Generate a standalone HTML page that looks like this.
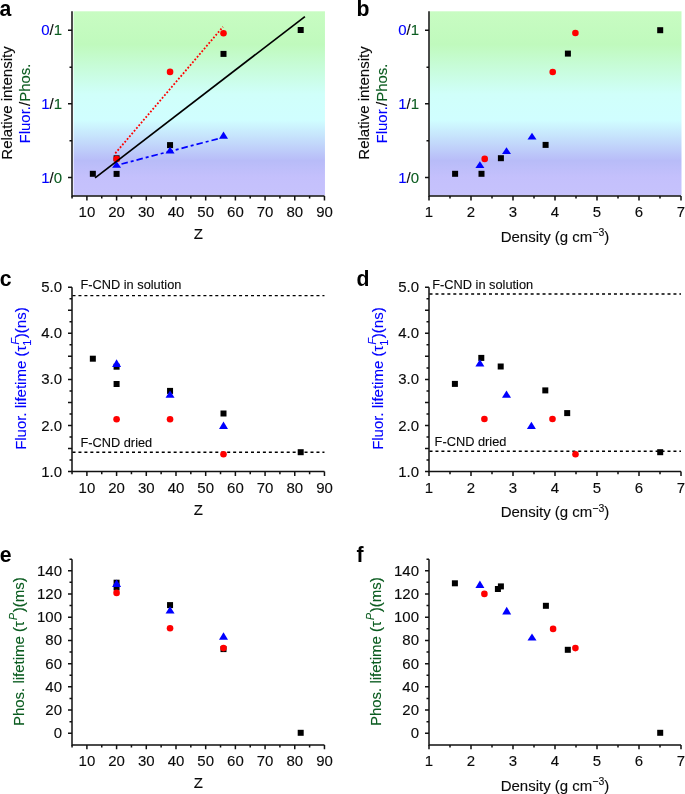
<!DOCTYPE html>
<html><head><meta charset="utf-8"><style>
html,body{margin:0;padding:0;background:#fff;width:685px;height:794px;overflow:hidden}
svg{display:block}
.t{font-family:"Liberation Sans",sans-serif;font-size:15px;fill:#0a0a0a}
text{stroke:#0a0a0a;stroke-width:0.12px}
.tt{font-family:"Liberation Sans",sans-serif;font-size:15px;fill:#0a0a0a}
.n{font-family:"Liberation Sans",sans-serif;font-size:12.8px;fill:#0a0a0a}
.L{font-family:"Liberation Sans",sans-serif;font-size:21.2px;font-weight:bold;fill:#000;stroke-width:0}
</style></head><body>
<div style="will-change:transform;width:685px;height:794px">
<svg width="685" height="794" viewBox="0 0 685 794">
<defs><linearGradient id="g" x1="0" y1="0" x2="0" y2="1"><stop offset="0" stop-color="#c8fcc2"/><stop offset="0.18" stop-color="#c0fabd"/><stop offset="0.45" stop-color="#d0fffa"/><stop offset="0.59" stop-color="#d0feff"/><stop offset="0.81" stop-color="#b8bcf8"/><stop offset="0.90" stop-color="#c4c0fc"/><stop offset="1" stop-color="#c6c2fc"/></linearGradient></defs>
<rect x="73.60" y="11.3" width="251.36" height="184.20" fill="url(#g)"/>
<path d="M72.0 11.2 L72.0 196 L324.46000000000004 196" fill="none" stroke="#111" stroke-width="1.5" stroke-linejoin="miter"/>
<path d="M72.0 30.30 L68.0 30.30 M72.0 103.80 L68.0 103.80 M72.0 177.60 L68.0 177.60 M72.0 67.20 L69.5 67.20 M72.0 140.80 L69.5 140.80" stroke="#111" stroke-width="1.5" fill="none"/>
<path d="M72.05 196 L72.05 198.6 M86.90 196 L86.90 200.4 M101.75 196 L101.75 198.6 M116.59 196 L116.59 200.4 M131.44 196 L131.44 198.6 M146.29 196 L146.29 200.4 M161.14 196 L161.14 198.6 M175.99 196 L175.99 200.4 M190.83 196 L190.83 198.6 M205.68 196 L205.68 200.4 M220.53 196 L220.53 198.6 M235.38 196 L235.38 200.4 M250.22 196 L250.22 198.6 M265.07 196 L265.07 200.4 M279.92 196 L279.92 198.6 M294.76 196 L294.76 200.4 M309.61 196 L309.61 198.6 M324.46 196 L324.46 200.4" stroke="#111" stroke-width="1.5" fill="none"/>
<text transform="translate(86.90,217.20) scale(1,1.01)" text-anchor="middle" class="t">10</text>
<text transform="translate(116.59,217.20) scale(1,1.01)" text-anchor="middle" class="t">20</text>
<text transform="translate(146.29,217.20) scale(1,1.01)" text-anchor="middle" class="t">30</text>
<text transform="translate(175.99,217.20) scale(1,1.01)" text-anchor="middle" class="t">40</text>
<text transform="translate(205.68,217.20) scale(1,1.01)" text-anchor="middle" class="t">50</text>
<text transform="translate(235.38,217.20) scale(1,1.01)" text-anchor="middle" class="t">60</text>
<text transform="translate(265.07,217.20) scale(1,1.01)" text-anchor="middle" class="t">70</text>
<text transform="translate(294.76,217.20) scale(1,1.01)" text-anchor="middle" class="t">80</text>
<text transform="translate(324.46,217.20) scale(1,1.01)" text-anchor="middle" class="t">90</text>
<text transform="translate(62.00,35.30) scale(1,1.01)" text-anchor="end" class="t"><tspan style="fill:#0000ff;stroke:#0000ff">0</tspan>/<tspan style="fill:#0b5c20;stroke:#0b5c20">1</tspan></text>
<text transform="translate(62.00,108.80) scale(1,1.01)" text-anchor="end" class="t"><tspan style="fill:#0000ff;stroke:#0000ff">1</tspan>/<tspan style="fill:#0b5c20;stroke:#0b5c20">1</tspan></text>
<text transform="translate(62.00,182.60) scale(1,1.01)" text-anchor="end" class="t"><tspan style="fill:#0000ff;stroke:#0000ff">1</tspan>/<tspan style="fill:#0b5c20;stroke:#0b5c20">0</tspan></text>
<text transform="translate(12.30,103.00) rotate(-90) scale(1,1.01)" text-anchor="middle" class="tt">Relative intensity</text>
<text transform="translate(29.80,103.50) rotate(-90) scale(1,1.01)" text-anchor="middle" class="tt"><tspan style="fill:#0000ff;stroke:#0000ff">Fluor.</tspan>/<tspan style="fill:#0b5c20;stroke:#0b5c20">Phos.</tspan></text>
<rect x="429.60" y="11.3" width="251.90" height="184.20" fill="url(#g)"/>
<path d="M429.0 11.2 L429.0 196 L681.0 196" fill="none" stroke="#111" stroke-width="1.5" stroke-linejoin="miter"/>
<path d="M429.0 30.30 L425.0 30.30 M429.0 103.80 L425.0 103.80 M429.0 177.60 L425.0 177.60 M429.0 67.20 L426.5 67.20 M429.0 140.80 L426.5 140.80" stroke="#111" stroke-width="1.5" fill="none"/>
<path d="M429.00 196 L429.00 200.4 M450.00 196 L450.00 198.6 M471.00 196 L471.00 200.4 M492.00 196 L492.00 198.6 M513.00 196 L513.00 200.4 M534.00 196 L534.00 198.6 M555.00 196 L555.00 200.4 M576.00 196 L576.00 198.6 M597.00 196 L597.00 200.4 M618.00 196 L618.00 198.6 M639.00 196 L639.00 200.4 M660.00 196 L660.00 198.6 M681.00 196 L681.00 200.4" stroke="#111" stroke-width="1.5" fill="none"/>
<text transform="translate(429.00,217.20) scale(1,1.01)" text-anchor="middle" class="t">1</text>
<text transform="translate(471.00,217.20) scale(1,1.01)" text-anchor="middle" class="t">2</text>
<text transform="translate(513.00,217.20) scale(1,1.01)" text-anchor="middle" class="t">3</text>
<text transform="translate(555.00,217.20) scale(1,1.01)" text-anchor="middle" class="t">4</text>
<text transform="translate(597.00,217.20) scale(1,1.01)" text-anchor="middle" class="t">5</text>
<text transform="translate(639.00,217.20) scale(1,1.01)" text-anchor="middle" class="t">6</text>
<text transform="translate(681.00,217.20) scale(1,1.01)" text-anchor="middle" class="t">7</text>
<text transform="translate(419.00,35.30) scale(1,1.01)" text-anchor="end" class="t"><tspan style="fill:#0000ff;stroke:#0000ff">0</tspan>/<tspan style="fill:#0b5c20;stroke:#0b5c20">1</tspan></text>
<text transform="translate(419.00,108.80) scale(1,1.01)" text-anchor="end" class="t"><tspan style="fill:#0000ff;stroke:#0000ff">1</tspan>/<tspan style="fill:#0b5c20;stroke:#0b5c20">1</tspan></text>
<text transform="translate(419.00,182.60) scale(1,1.01)" text-anchor="end" class="t"><tspan style="fill:#0000ff;stroke:#0000ff">1</tspan>/<tspan style="fill:#0b5c20;stroke:#0b5c20">0</tspan></text>
<text transform="translate(369.30,103.00) rotate(-90) scale(1,1.01)" text-anchor="middle" class="tt">Relative intensity</text>
<text transform="translate(386.80,103.50) rotate(-90) scale(1,1.01)" text-anchor="middle" class="tt"><tspan style="fill:#0000ff;stroke:#0000ff">Fluor.</tspan>/<tspan style="fill:#0b5c20;stroke:#0b5c20">Phos.</tspan></text>
<rect x="113.59" y="155.30" width="6.0" height="6.0" fill="#000"/>
<rect x="89.84" y="170.80" width="6.0" height="6.0" fill="#000"/>
<rect x="113.59" y="170.90" width="6.0" height="6.0" fill="#000"/>
<rect x="167.05" y="142.10" width="6.0" height="6.0" fill="#000"/>
<rect x="220.50" y="50.90" width="6.0" height="6.0" fill="#000"/>
<rect x="297.70" y="27.00" width="6.0" height="6.0" fill="#000"/>
<circle cx="116.59" cy="159.00" r="3.3" fill="#ff0000"/>
<circle cx="170.05" cy="71.90" r="3.3" fill="#ff0000"/>
<circle cx="223.50" cy="33.30" r="3.3" fill="#ff0000"/>
<polygon points="116.59,161.30 121.09,167.70 112.09,167.70" fill="#0000ff"/>
<polygon points="170.05,146.80 174.55,153.50 165.55,153.50" fill="#0000ff"/>
<polygon points="223.50,131.60 228.00,138.70 219.00,138.70" fill="#0000ff"/>
<line x1="115.3" y1="153.3" x2="223.0" y2="26.8" stroke="#ff0000" stroke-width="1.8" stroke-dasharray="1.8 1.8"/>
<line x1="121.5" y1="164.0" x2="221.0" y2="138.0" stroke="#0000ff" stroke-width="1.7" stroke-dasharray="6.5 3 3 3"/>
<line x1="95.1" y1="177.8" x2="304.9" y2="16.6" stroke="#000" stroke-width="1.7"/>
<rect x="452.10" y="170.80" width="6.0" height="6.0" fill="#000"/>
<rect x="478.50" y="170.80" width="6.0" height="6.0" fill="#000"/>
<rect x="497.90" y="155.20" width="6.0" height="6.0" fill="#000"/>
<rect x="542.60" y="141.90" width="6.0" height="6.0" fill="#000"/>
<rect x="564.90" y="50.60" width="6.0" height="6.0" fill="#000"/>
<rect x="657.20" y="27.20" width="6.0" height="6.0" fill="#000"/>
<circle cx="484.70" cy="158.90" r="3.3" fill="#ff0000"/>
<circle cx="552.70" cy="72.00" r="3.3" fill="#ff0000"/>
<circle cx="575.40" cy="33.00" r="3.3" fill="#ff0000"/>
<polygon points="479.90,161.30 484.40,168.10 475.40,168.10" fill="#0000ff"/>
<polygon points="506.50,147.20 511.00,154.00 502.00,154.00" fill="#0000ff"/>
<polygon points="532.00,132.70 536.50,139.50 527.50,139.50" fill="#0000ff"/>
<path d="M72.0 287.20000000000005 L72.0 471.6 L324.46000000000004 471.6" fill="none" stroke="#111" stroke-width="1.5" stroke-linejoin="miter"/>
<path d="M72.0 471.60 L68.0 471.60 M72.0 448.55 L68.0 448.55 M72.0 425.50 L68.0 425.50 M72.0 402.45 L68.0 402.45 M72.0 379.40 L68.0 379.40 M72.0 356.35 L68.0 356.35 M72.0 333.30 L68.0 333.30 M72.0 310.25 L68.0 310.25 M72.0 287.20 L68.0 287.20 M72.0 460.08 L69.5 460.08 M72.0 437.03 L69.5 437.03 M72.0 413.98 L69.5 413.98 M72.0 390.93 L69.5 390.93 M72.0 367.88 L69.5 367.88 M72.0 344.83 L69.5 344.83 M72.0 321.77 L69.5 321.77 M72.0 298.73 L69.5 298.73" stroke="#111" stroke-width="1.5" fill="none"/>
<path d="M72.05 471.6 L72.05 474.20000000000005 M86.90 471.6 L86.90 476.0 M101.75 471.6 L101.75 474.20000000000005 M116.59 471.6 L116.59 476.0 M131.44 471.6 L131.44 474.20000000000005 M146.29 471.6 L146.29 476.0 M161.14 471.6 L161.14 474.20000000000005 M175.99 471.6 L175.99 476.0 M190.83 471.6 L190.83 474.20000000000005 M205.68 471.6 L205.68 476.0 M220.53 471.6 L220.53 474.20000000000005 M235.38 471.6 L235.38 476.0 M250.22 471.6 L250.22 474.20000000000005 M265.07 471.6 L265.07 476.0 M279.92 471.6 L279.92 474.20000000000005 M294.76 471.6 L294.76 476.0 M309.61 471.6 L309.61 474.20000000000005 M324.46 471.6 L324.46 476.0" stroke="#111" stroke-width="1.5" fill="none"/>
<text transform="translate(86.90,492.80) scale(1,1.01)" text-anchor="middle" class="t">10</text>
<text transform="translate(116.59,492.80) scale(1,1.01)" text-anchor="middle" class="t">20</text>
<text transform="translate(146.29,492.80) scale(1,1.01)" text-anchor="middle" class="t">30</text>
<text transform="translate(175.99,492.80) scale(1,1.01)" text-anchor="middle" class="t">40</text>
<text transform="translate(205.68,492.80) scale(1,1.01)" text-anchor="middle" class="t">50</text>
<text transform="translate(235.38,492.80) scale(1,1.01)" text-anchor="middle" class="t">60</text>
<text transform="translate(265.07,492.80) scale(1,1.01)" text-anchor="middle" class="t">70</text>
<text transform="translate(294.76,492.80) scale(1,1.01)" text-anchor="middle" class="t">80</text>
<text transform="translate(324.46,492.80) scale(1,1.01)" text-anchor="middle" class="t">90</text>
<text transform="translate(62.00,476.60) scale(1,1.01)" text-anchor="end" class="t">1.0</text>
<text transform="translate(62.00,430.50) scale(1,1.01)" text-anchor="end" class="t">2.0</text>
<text transform="translate(62.00,384.40) scale(1,1.01)" text-anchor="end" class="t">3.0</text>
<text transform="translate(62.00,338.30) scale(1,1.01)" text-anchor="end" class="t">4.0</text>
<text transform="translate(62.00,292.20) scale(1,1.01)" text-anchor="end" class="t">5.0</text>
<text transform="translate(26.00,378.60) rotate(-90) scale(1,1.01)" text-anchor="middle" class="tt" style="fill:#0000ff;stroke:#0000ff">Fluor. lifetime (τ<tspan font-size="11" dy="4.9">1</tspan><tspan font-size="10.5" font-style="italic" dx="-5" dy="-11.7">F</tspan><tspan dy="6.8">)(ns)</tspan></text>
<line x1="72.5" y1="295.6" x2="324.46000000000004" y2="295.6" stroke="#000" stroke-width="1.4" stroke-dasharray="3 2.95"/>
<line x1="72.5" y1="452.2" x2="324.46000000000004" y2="452.2" stroke="#000" stroke-width="1.4" stroke-dasharray="3 2.95"/>
<text transform="translate(80.40,289.00) scale(1,1.01)" text-anchor="start" class="n">F-CND in solution</text>
<text transform="translate(80.40,446.60) scale(1,1.01)" text-anchor="start" class="n">F-CND dried</text>
<path d="M429.0 287.20000000000005 L429.0 471.6 L681.0 471.6" fill="none" stroke="#111" stroke-width="1.5" stroke-linejoin="miter"/>
<path d="M429.0 471.60 L425.0 471.60 M429.0 448.55 L425.0 448.55 M429.0 425.50 L425.0 425.50 M429.0 402.45 L425.0 402.45 M429.0 379.40 L425.0 379.40 M429.0 356.35 L425.0 356.35 M429.0 333.30 L425.0 333.30 M429.0 310.25 L425.0 310.25 M429.0 287.20 L425.0 287.20 M429.0 460.08 L426.5 460.08 M429.0 437.03 L426.5 437.03 M429.0 413.98 L426.5 413.98 M429.0 390.93 L426.5 390.93 M429.0 367.88 L426.5 367.88 M429.0 344.83 L426.5 344.83 M429.0 321.77 L426.5 321.77 M429.0 298.73 L426.5 298.73" stroke="#111" stroke-width="1.5" fill="none"/>
<path d="M429.00 471.6 L429.00 476.0 M450.00 471.6 L450.00 474.20000000000005 M471.00 471.6 L471.00 476.0 M492.00 471.6 L492.00 474.20000000000005 M513.00 471.6 L513.00 476.0 M534.00 471.6 L534.00 474.20000000000005 M555.00 471.6 L555.00 476.0 M576.00 471.6 L576.00 474.20000000000005 M597.00 471.6 L597.00 476.0 M618.00 471.6 L618.00 474.20000000000005 M639.00 471.6 L639.00 476.0 M660.00 471.6 L660.00 474.20000000000005 M681.00 471.6 L681.00 476.0" stroke="#111" stroke-width="1.5" fill="none"/>
<text transform="translate(429.00,492.80) scale(1,1.01)" text-anchor="middle" class="t">1</text>
<text transform="translate(471.00,492.80) scale(1,1.01)" text-anchor="middle" class="t">2</text>
<text transform="translate(513.00,492.80) scale(1,1.01)" text-anchor="middle" class="t">3</text>
<text transform="translate(555.00,492.80) scale(1,1.01)" text-anchor="middle" class="t">4</text>
<text transform="translate(597.00,492.80) scale(1,1.01)" text-anchor="middle" class="t">5</text>
<text transform="translate(639.00,492.80) scale(1,1.01)" text-anchor="middle" class="t">6</text>
<text transform="translate(681.00,492.80) scale(1,1.01)" text-anchor="middle" class="t">7</text>
<text transform="translate(419.00,476.60) scale(1,1.01)" text-anchor="end" class="t">1.0</text>
<text transform="translate(419.00,430.50) scale(1,1.01)" text-anchor="end" class="t">2.0</text>
<text transform="translate(419.00,384.40) scale(1,1.01)" text-anchor="end" class="t">3.0</text>
<text transform="translate(419.00,338.30) scale(1,1.01)" text-anchor="end" class="t">4.0</text>
<text transform="translate(419.00,292.20) scale(1,1.01)" text-anchor="end" class="t">5.0</text>
<text transform="translate(383.00,378.60) rotate(-90) scale(1,1.01)" text-anchor="middle" class="tt" style="fill:#0000ff;stroke:#0000ff">Fluor. lifetime (τ<tspan font-size="11" dy="4.9">1</tspan><tspan font-size="10.5" font-style="italic" dx="-5" dy="-11.7">F</tspan><tspan dy="6.8">)(ns)</tspan></text>
<line x1="429.5" y1="294.0" x2="681.0" y2="294.0" stroke="#000" stroke-width="1.4" stroke-dasharray="3 2.95"/>
<line x1="429.5" y1="451.3" x2="681.0" y2="451.3" stroke="#000" stroke-width="1.4" stroke-dasharray="3 2.95"/>
<text transform="translate(432.20,288.80) scale(1,1.01)" text-anchor="start" class="n">F-CND in solution</text>
<text transform="translate(434.60,446.40) scale(1,1.01)" text-anchor="start" class="n">F-CND dried</text>
<rect x="89.84" y="355.70" width="6.0" height="6.0" fill="#000"/>
<rect x="113.59" y="363.70" width="6.0" height="6.0" fill="#000"/>
<rect x="113.59" y="381.00" width="6.0" height="6.0" fill="#000"/>
<rect x="167.05" y="387.90" width="6.0" height="6.0" fill="#000"/>
<rect x="220.50" y="410.50" width="6.0" height="6.0" fill="#000"/>
<rect x="297.70" y="449.20" width="6.0" height="6.0" fill="#000"/>
<circle cx="116.59" cy="419.20" r="3.3" fill="#ff0000"/>
<circle cx="170.05" cy="419.30" r="3.3" fill="#ff0000"/>
<circle cx="223.50" cy="454.20" r="3.3" fill="#ff0000"/>
<polygon points="116.59,359.30 121.09,366.90 112.09,366.90" fill="#0000ff"/>
<polygon points="170.05,390.50 174.55,397.70 165.55,397.70" fill="#0000ff"/>
<polygon points="223.50,421.40 228.00,428.90 219.00,428.90" fill="#0000ff"/>
<rect x="478.30" y="354.90" width="6.0" height="6.0" fill="#000"/>
<rect x="497.70" y="363.50" width="6.0" height="6.0" fill="#000"/>
<rect x="451.90" y="380.90" width="6.0" height="6.0" fill="#000"/>
<rect x="542.30" y="387.40" width="6.0" height="6.0" fill="#000"/>
<rect x="564.20" y="410.10" width="6.0" height="6.0" fill="#000"/>
<rect x="657.20" y="449.20" width="6.0" height="6.0" fill="#000"/>
<circle cx="484.40" cy="419.00" r="3.3" fill="#ff0000"/>
<circle cx="552.50" cy="419.00" r="3.3" fill="#ff0000"/>
<circle cx="575.50" cy="454.20" r="3.3" fill="#ff0000"/>
<polygon points="479.90,359.30 484.40,366.50 475.40,366.50" fill="#0000ff"/>
<polygon points="506.50,390.40 511.00,397.80 502.00,397.80" fill="#0000ff"/>
<polygon points="531.40,421.70 535.90,429.00 526.90,429.00" fill="#0000ff"/>
<path d="M72.0 559.15 L72.0 744.91 L324.46000000000004 744.91" fill="none" stroke="#111" stroke-width="1.5" stroke-linejoin="miter"/>
<path d="M72.0 733.30 L68.0 733.30 M72.0 710.08 L68.0 710.08 M72.0 686.86 L68.0 686.86 M72.0 663.64 L68.0 663.64 M72.0 640.42 L68.0 640.42 M72.0 617.20 L68.0 617.20 M72.0 593.98 L68.0 593.98 M72.0 570.76 L68.0 570.76 M72.0 721.69 L69.5 721.69 M72.0 698.47 L69.5 698.47 M72.0 675.25 L69.5 675.25 M72.0 652.03 L69.5 652.03 M72.0 628.81 L69.5 628.81 M72.0 605.59 L69.5 605.59 M72.0 582.37 L69.5 582.37 M72.0 559.15 L69.5 559.15" stroke="#111" stroke-width="1.5" fill="none"/>
<path d="M72.05 744.91 L72.05 747.51 M86.90 744.91 L86.90 749.31 M101.75 744.91 L101.75 747.51 M116.59 744.91 L116.59 749.31 M131.44 744.91 L131.44 747.51 M146.29 744.91 L146.29 749.31 M161.14 744.91 L161.14 747.51 M175.99 744.91 L175.99 749.31 M190.83 744.91 L190.83 747.51 M205.68 744.91 L205.68 749.31 M220.53 744.91 L220.53 747.51 M235.38 744.91 L235.38 749.31 M250.22 744.91 L250.22 747.51 M265.07 744.91 L265.07 749.31 M279.92 744.91 L279.92 747.51 M294.76 744.91 L294.76 749.31 M309.61 744.91 L309.61 747.51 M324.46 744.91 L324.46 749.31" stroke="#111" stroke-width="1.5" fill="none"/>
<text transform="translate(86.90,766.11) scale(1,1.01)" text-anchor="middle" class="t">10</text>
<text transform="translate(116.59,766.11) scale(1,1.01)" text-anchor="middle" class="t">20</text>
<text transform="translate(146.29,766.11) scale(1,1.01)" text-anchor="middle" class="t">30</text>
<text transform="translate(175.99,766.11) scale(1,1.01)" text-anchor="middle" class="t">40</text>
<text transform="translate(205.68,766.11) scale(1,1.01)" text-anchor="middle" class="t">50</text>
<text transform="translate(235.38,766.11) scale(1,1.01)" text-anchor="middle" class="t">60</text>
<text transform="translate(265.07,766.11) scale(1,1.01)" text-anchor="middle" class="t">70</text>
<text transform="translate(294.76,766.11) scale(1,1.01)" text-anchor="middle" class="t">80</text>
<text transform="translate(324.46,766.11) scale(1,1.01)" text-anchor="middle" class="t">90</text>
<text transform="translate(62.00,738.30) scale(1,1.01)" text-anchor="end" class="t">0</text>
<text transform="translate(62.00,715.08) scale(1,1.01)" text-anchor="end" class="t">20</text>
<text transform="translate(62.00,691.86) scale(1,1.01)" text-anchor="end" class="t">40</text>
<text transform="translate(62.00,668.64) scale(1,1.01)" text-anchor="end" class="t">60</text>
<text transform="translate(62.00,645.42) scale(1,1.01)" text-anchor="end" class="t">80</text>
<text transform="translate(62.00,622.20) scale(1,1.01)" text-anchor="end" class="t">100</text>
<text transform="translate(62.00,598.98) scale(1,1.01)" text-anchor="end" class="t">120</text>
<text transform="translate(62.00,575.76) scale(1,1.01)" text-anchor="end" class="t">140</text>
<text transform="translate(24.00,651.70) rotate(-90) scale(1,1.01)" text-anchor="middle" class="tt" style="fill:#0b5c20;stroke:#0b5c20">Phos. lifetime (τ<tspan font-size="10.5" font-style="italic" dx="1.2" dy="-6.6">P</tspan><tspan dx="0.6" dy="6.6">)(ms)</tspan></text>
<path d="M429.0 559.15 L429.0 744.91 L681.0 744.91" fill="none" stroke="#111" stroke-width="1.5" stroke-linejoin="miter"/>
<path d="M429.0 733.30 L425.0 733.30 M429.0 710.08 L425.0 710.08 M429.0 686.86 L425.0 686.86 M429.0 663.64 L425.0 663.64 M429.0 640.42 L425.0 640.42 M429.0 617.20 L425.0 617.20 M429.0 593.98 L425.0 593.98 M429.0 570.76 L425.0 570.76 M429.0 721.69 L426.5 721.69 M429.0 698.47 L426.5 698.47 M429.0 675.25 L426.5 675.25 M429.0 652.03 L426.5 652.03 M429.0 628.81 L426.5 628.81 M429.0 605.59 L426.5 605.59 M429.0 582.37 L426.5 582.37 M429.0 559.15 L426.5 559.15" stroke="#111" stroke-width="1.5" fill="none"/>
<path d="M429.00 744.91 L429.00 749.31 M450.00 744.91 L450.00 747.51 M471.00 744.91 L471.00 749.31 M492.00 744.91 L492.00 747.51 M513.00 744.91 L513.00 749.31 M534.00 744.91 L534.00 747.51 M555.00 744.91 L555.00 749.31 M576.00 744.91 L576.00 747.51 M597.00 744.91 L597.00 749.31 M618.00 744.91 L618.00 747.51 M639.00 744.91 L639.00 749.31 M660.00 744.91 L660.00 747.51 M681.00 744.91 L681.00 749.31" stroke="#111" stroke-width="1.5" fill="none"/>
<text transform="translate(429.00,766.11) scale(1,1.01)" text-anchor="middle" class="t">1</text>
<text transform="translate(471.00,766.11) scale(1,1.01)" text-anchor="middle" class="t">2</text>
<text transform="translate(513.00,766.11) scale(1,1.01)" text-anchor="middle" class="t">3</text>
<text transform="translate(555.00,766.11) scale(1,1.01)" text-anchor="middle" class="t">4</text>
<text transform="translate(597.00,766.11) scale(1,1.01)" text-anchor="middle" class="t">5</text>
<text transform="translate(639.00,766.11) scale(1,1.01)" text-anchor="middle" class="t">6</text>
<text transform="translate(681.00,766.11) scale(1,1.01)" text-anchor="middle" class="t">7</text>
<text transform="translate(419.00,738.30) scale(1,1.01)" text-anchor="end" class="t">0</text>
<text transform="translate(419.00,715.08) scale(1,1.01)" text-anchor="end" class="t">20</text>
<text transform="translate(419.00,691.86) scale(1,1.01)" text-anchor="end" class="t">40</text>
<text transform="translate(419.00,668.64) scale(1,1.01)" text-anchor="end" class="t">60</text>
<text transform="translate(419.00,645.42) scale(1,1.01)" text-anchor="end" class="t">80</text>
<text transform="translate(419.00,622.20) scale(1,1.01)" text-anchor="end" class="t">100</text>
<text transform="translate(419.00,598.98) scale(1,1.01)" text-anchor="end" class="t">120</text>
<text transform="translate(419.00,575.76) scale(1,1.01)" text-anchor="end" class="t">140</text>
<text transform="translate(381.00,651.70) rotate(-90) scale(1,1.01)" text-anchor="middle" class="tt" style="fill:#0b5c20;stroke:#0b5c20">Phos. lifetime (τ<tspan font-size="10.5" font-style="italic" dx="1.2" dy="-6.6">P</tspan><tspan dx="0.6" dy="6.6">)(ms)</tspan></text>
<rect x="113.59" y="579.70" width="6.0" height="6.0" fill="#000"/>
<rect x="113.59" y="584.50" width="6.0" height="6.0" fill="#000"/>
<rect x="167.05" y="602.10" width="6.0" height="6.0" fill="#000"/>
<rect x="220.50" y="646.10" width="6.0" height="6.0" fill="#000"/>
<rect x="297.70" y="729.80" width="6.0" height="6.0" fill="#000"/>
<polygon points="116.59,579.50 121.09,586.90 112.09,586.90" fill="#0000ff"/>
<circle cx="116.59" cy="592.90" r="3.3" fill="#ff0000"/>
<polygon points="170.05,606.20 174.55,613.60 165.55,613.60" fill="#0000ff"/>
<circle cx="170.05" cy="628.30" r="3.3" fill="#ff0000"/>
<polygon points="223.50,632.20 228.00,639.70 219.00,639.70" fill="#0000ff"/>
<circle cx="223.50" cy="648.10" r="3.3" fill="#ff0000"/>
<rect x="451.90" y="580.30" width="6.0" height="6.0" fill="#000"/>
<rect x="494.90" y="586.00" width="6.0" height="6.0" fill="#000"/>
<rect x="497.90" y="583.40" width="6.0" height="6.0" fill="#000"/>
<rect x="542.90" y="602.80" width="6.0" height="6.0" fill="#000"/>
<rect x="564.80" y="646.80" width="6.0" height="6.0" fill="#000"/>
<rect x="657.20" y="729.80" width="6.0" height="6.0" fill="#000"/>
<polygon points="479.90,580.60 484.40,588.00 475.40,588.00" fill="#0000ff"/>
<circle cx="484.40" cy="593.90" r="3.3" fill="#ff0000"/>
<polygon points="506.70,606.80 511.20,614.40 502.20,614.40" fill="#0000ff"/>
<circle cx="553.10" cy="628.90" r="3.3" fill="#ff0000"/>
<polygon points="532.00,633.40 536.50,640.60 527.50,640.60" fill="#0000ff"/>
<circle cx="575.40" cy="648.10" r="3.3" fill="#ff0000"/>
<text transform="translate(198.30,239.20) scale(1,1.01)" text-anchor="middle" class="tt">Z</text>
<text transform="translate(198.30,514.70) scale(1,1.01)" text-anchor="middle" class="tt">Z</text>
<text transform="translate(198.30,788.30) scale(1,1.01)" text-anchor="middle" class="tt">Z</text>
<text transform="translate(555.00,241.50) scale(1,1.01)" text-anchor="middle" class="tt">Density (g cm<tspan font-size="10.5" dy="-5.4">−3</tspan><tspan dy="5.4">)</tspan></text>
<text transform="translate(555.00,517.20) scale(1,1.01)" text-anchor="middle" class="tt">Density (g cm<tspan font-size="10.5" dy="-5.4">−3</tspan><tspan dy="5.4">)</tspan></text>
<text transform="translate(555.00,790.50) scale(1,1.01)" text-anchor="middle" class="tt">Density (g cm<tspan font-size="10.5" dy="-5.4">−3</tspan><tspan dy="5.4">)</tspan></text>
<text transform="translate(-0.60,15.70) scale(1,1.0001)" text-anchor="start" class="L">a</text>
<text transform="translate(356.60,15.70) scale(1,1.0001)" text-anchor="start" class="L">b</text>
<text transform="translate(-0.30,285.90) scale(1,1.0001)" text-anchor="start" class="L">c</text>
<text transform="translate(356.60,285.90) scale(1,1.0001)" text-anchor="start" class="L">d</text>
<text transform="translate(-0.30,561.80) scale(1,1.0001)" text-anchor="start" class="L">e</text>
<text transform="translate(356.60,561.80) scale(1,1.0001)" text-anchor="start" class="L">f</text>
</svg></div></body></html>
